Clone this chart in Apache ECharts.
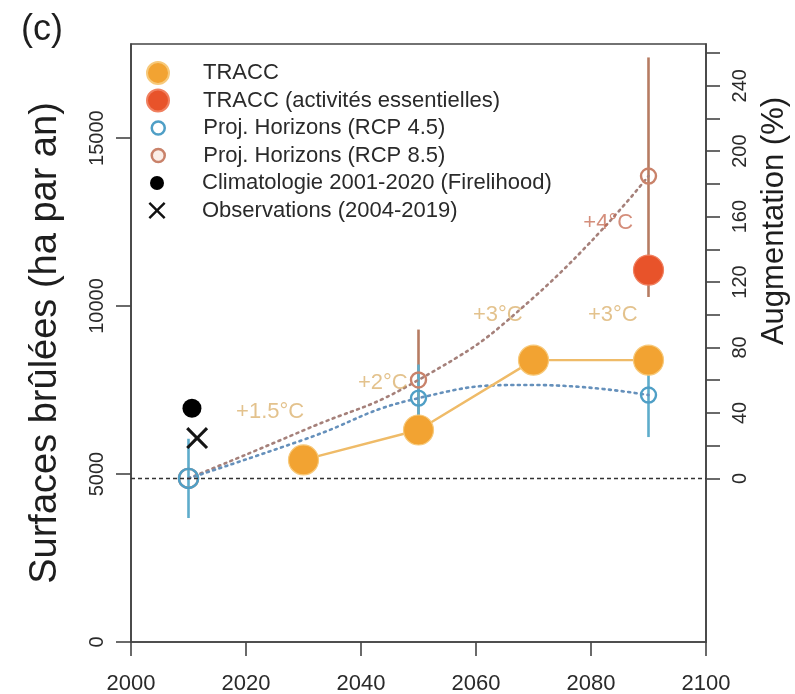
<!DOCTYPE html>
<html>
<head>
<meta charset="utf-8">
<script src="https://cdn.jsdelivr.net/npm/echarts@6/dist/echarts.min.js"></script>
<style>
  html, body { margin: 0; padding: 0; background: #ffffff; }
  #chart { width: 795px; height: 694px; }
</style>
</head>
<body>
<div id="chart"></div>
<script>
// Burned area (ha per year) and relative increase against the 2010 reference
const baseline = 4870;
const yMax = 17800;

const xTicks = [2000, 2020, 2040, 2060, 2080, 2100];
const leftTicks = [0, 5000, 10000, 15000];
const pctTicks = [0, 20, 40, 60, 80, 100, 120, 140, 160, 180, 200, 220, 240, 260];
const pctLabels = [0, 40, 80, 120, 160, 200, 240];

// TRACC warming levels
const traccYears = [2030, 2050, 2070, 2090];
const traccValues = [5420, 6310, 8390, 8390];
const essentialYears = [2090];
const essentialValues = [11070];

// Horizon projections with their spread
const horizonYears = [2010, 2050, 2090];
const rcp45Values = [4870, 7260, 7350];
const rcp45Low = [3690, 6260, 6100];
const rcp45High = [6050, 8260, 8600];
const rcp85Values = [4870, 7800, 13870];
const rcp85Low = [null, 6300, 10270];
const rcp85High = [null, 9300, 17400];

// Smoothed trajectories between horizons
const trajYears = [2010, 2030, 2050, 2070, 2090];
const rcp45Traj = [4870, 6020, 7260, 7650, 7350];
const rcp85Traj = [4870, 6300, 7800, 10250, 13870];

// Present-day references
const climYears = [2010.6];
const climValues = [6960];
const obsYears = [2011.5];
const obsValues = [6070];

// Warming level annotations
const warmingText = ['+1.5°C', '+2°C', '+3°C', '+3°C', '+4°C'];
const warmingYears = [2024.2, 2043.8, 2063.8, 2083.8, 2083];
const warmingValues = [6845, 7710, 9730, 9730, 12470];

const FONT = '"Liberation Sans", Arial, Helvetica, sans-serif';
const C = {
  tracc: '#f2a332',
  traccLine: '#efbb68',
  essential: '#e8532a',
  blue: '#4f9fc6',
  blueBar: '#5eaccb',
  blueTraj: '#6590bb',
  brown: '#c9826a',
  brownBar: '#b67c62',
  brownTraj: '#a5807a',
  axis: '#444444',
  text: '#2a2a2a'
};
const X_PATH = 'path://M1,0 L5,4 L9,0 L10,1 L6,5 L10,9 L9,10 L5,6 L1,10 L0,9 L4,5 L0,1 Z';

const pair = (xs, ys) => xs.map((x, i) => [x, ys[i]]);
const plain = (v) => String(v);

function errorBars(name, years, low, high, color) {
  const data = [];
  years.forEach((y, i) => { if (low[i] != null) data.push([y, low[i], high[i]]); });
  return {
    type: 'custom', name, silent: true, z: 2,
    data,
    encode: { x: 0, y: [1, 2] },
    renderItem(params, api) {
      const a = api.coord([api.value(0), api.value(1)]);
      const b = api.coord([api.value(0), api.value(2)]);
      return {
        type: 'line',
        shape: { x1: a[0], y1: a[1], x2: b[0], y2: b[1] },
        style: { stroke: color, lineWidth: 2.6 }
      };
    }
  };
}

// One legend row per component so each marker keeps its own size
const legendRows = [
  { name: 'TRACC', size: 22, icon: 'circle', style: { color: C.tracc } },
  { name: 'TRACC (activités essentielles)', size: 22, icon: 'circle', style: { color: C.essential } },
  { name: 'Proj. Horizons (RCP 4.5)', size: 13, icon: 'circle', style: { color: '#ffffff', borderColor: C.blue, borderWidth: 2.5 } },
  { name: 'Proj. Horizons (RCP 8.5)', size: 13, icon: 'circle', style: { color: '#fbeee8', borderColor: C.brown, borderWidth: 2.5 } },
  { name: 'Climatologie 2001-2020 (Firelihood)', size: 14, icon: 'circle', style: { color: '#000000' } },
  { name: 'Observations (2004-2019)', size: 17, icon: X_PATH, style: { color: '#111111' } }
];
const legendCx = 157, legendTextX = 202, legendTop = 73, legendStep = 27.5;
const legends = legendRows.map((r, i) => ({
  orient: 'vertical',
  padding: 0,
  left: legendCx - r.size / 2,
  top: legendTop + i * legendStep - 12,
  itemWidth: r.size,
  itemHeight: r.size,
  selectedMode: false,
  data: [{ name: r.name, icon: r.icon, itemStyle: r.style, lineStyle: { opacity: 0, width: 0 } }],
  textStyle: {
    fontFamily: FONT, fontSize: 22, color: C.text, lineHeight: 24,
    padding: [0, 0, 0, legendTextX - (legendCx + r.size / 2) - 5]
  }
}));

const chart = echarts.init(document.getElementById('chart'), null, { renderer: 'canvas' });

chart.setOption({
  animation: false,
  backgroundColor: '#ffffff',
  textStyle: { fontFamily: FONT },
  grid: {
    left: 131, right: 89, top: 44, bottom: 52,
    containLabel: false, outerBoundsMode: 'none',
    show: true, borderColor: C.axis, borderWidth: 1.6, backgroundColor: 'transparent'
  },
  legend: legends,
  xAxis: {
    type: 'value', min: 2000, max: 2100, interval: 20,
    splitLine: { show: false },
    axisLine: { show: true, onZero: false, lineStyle: { color: C.axis, width: 1.6 } },
    axisTick: { show: true, inside: false, length: 14, lineStyle: { color: C.axis, width: 1.6 }, customValues: xTicks },
    axisLabel: { fontSize: 22, color: C.text, margin: 31, fontFamily: FONT, customValues: xTicks, formatter: plain }
  },
  yAxis: [
    {
      type: 'value', min: 0, max: yMax, position: 'left',
      name: 'Surfaces brûlées (ha par an)', nameLocation: 'middle', nameRotate: 90, nameGap: 66,
      nameTextStyle: { fontSize: 38, color: '#1e1e1e', fontFamily: FONT },
      splitLine: { show: false },
      axisLine: { show: true, onZero: false, lineStyle: { color: C.axis, width: 1.6 } },
      axisTick: { show: true, inside: false, length: 15, lineStyle: { color: C.axis, width: 1.6 }, customValues: leftTicks },
      axisLabel: { rotate: 90, fontSize: 20, color: C.text, margin: 24, fontFamily: FONT, customValues: leftTicks, formatter: plain }
    },
    {
      type: 'value', position: 'right',
      min: -100, max: (yMax / baseline - 1) * 100,
      splitLine: { show: false },
      axisLine: { show: true, onZero: false, lineStyle: { color: C.axis, width: 1.6 } },
      axisTick: { show: true, inside: false, length: 14, lineStyle: { color: C.axis, width: 1.6 }, customValues: pctTicks },
      axisLabel: { rotate: 90, fontSize: 20, color: C.text, margin: 24, fontFamily: FONT, customValues: pctLabels, formatter: plain }
    }
  ],
  graphic: [
    { type: 'text', left: 21, top: 12, style: { text: '(c)', fontSize: 36, fontFamily: FONT, fill: '#1e1e1e' } },
    {
      type: 'text', x: 774, y: 221, rotation: Math.PI / 2,
      style: { text: 'Augmentation (%)', fontSize: 31, fontFamily: FONT, fill: '#1e1e1e', align: 'center', verticalAlign: 'middle' }
    }
  ],
  series: [
    errorBars('RCP 8.5 spread', horizonYears, rcp85Low, rcp85High, C.brownBar),
    errorBars('RCP 4.5 spread', horizonYears, rcp45Low, rcp45High, C.blueBar),
    {
      type: 'line', name: 'RCP 8.5 trajectory', data: pair(trajYears, rcp85Traj),
      smooth: 0.5, showSymbol: false, silent: true, z: 3,
      lineStyle: { color: C.brownTraj, width: 2.6, type: [2, 4.5], cap: 'round' }
    },
    {
      type: 'line', name: 'RCP 4.5 trajectory', data: pair(trajYears, rcp45Traj),
      smooth: 0.5, showSymbol: false, silent: true, z: 3,
      lineStyle: { color: C.blueTraj, width: 2.6, type: [2, 4.5], cap: 'round' },
      markLine: {
        silent: true, symbol: ['none', 'none'], label: { show: false },
        lineStyle: { color: '#333333', width: 1.4, type: [4, 3] },
        data: [{ yAxis: baseline }]
      }
    },
    {
      type: 'scatter', name: 'Proj. Horizons (RCP 8.5)', data: pair(horizonYears, rcp85Values),
      symbol: 'circle', symbolSize: (v) => (v[0] === 2010 ? 19 : 15), z: 4,
      itemStyle: { color: 'rgba(255,255,255,0)', borderColor: C.brown, borderWidth: 2.4, opacity: 1 }
    },
    {
      type: 'scatter', name: 'Proj. Horizons (RCP 4.5)', data: pair(horizonYears, rcp45Values),
      symbol: 'circle', symbolSize: (v) => (v[0] === 2010 ? 19 : 15), z: 4,
      itemStyle: { color: 'rgba(255,255,255,0)', borderColor: C.blue, borderWidth: 2.4, opacity: 1 }
    },
    {
      type: 'line', name: 'TRACC', data: pair(traccYears, traccValues),
      symbol: 'circle', symbolSize: 30, showSymbol: true, z: 5,
      lineStyle: { color: C.traccLine, width: 2.4 },
      itemStyle: { color: C.tracc, borderColor: '#f7c97a', borderWidth: 1.2 }
    },
    {
      type: 'scatter', name: 'TRACC (activités essentielles)', data: pair(essentialYears, essentialValues),
      symbol: 'circle', symbolSize: 30, z: 6,
      itemStyle: { color: C.essential, borderColor: '#f08060', borderWidth: 1.2, opacity: 1 }
    },
    {
      type: 'scatter', name: 'Climatologie 2001-2020 (Firelihood)', data: pair(climYears, climValues),
      symbol: 'circle', symbolSize: 19, z: 6,
      itemStyle: { color: '#000000', opacity: 1 }
    },
    {
      type: 'scatter', name: 'Observations (2004-2019)', data: pair(obsYears, obsValues),
      symbol: X_PATH, symbolSize: 22, z: 6,
      itemStyle: { color: '#151515', opacity: 1 }
    },
    {
      type: 'scatter', name: 'Niveaux de réchauffement', silent: true, z: 7,
      symbolSize: 1, itemStyle: { color: 'rgba(0,0,0,0)' },
      data: warmingText.map((t, i) => ({
        value: [warmingYears[i], warmingValues[i]],
        label: {
          show: true, position: 'inside', formatter: t,
          fontSize: 22, fontFamily: FONT,
          color: t === '+4°C' ? 'rgba(196,98,72,0.9)' : 'rgba(214,166,88,0.85)'
        }
      }))
    }
  ]
});
</script>
</body>
</html>
